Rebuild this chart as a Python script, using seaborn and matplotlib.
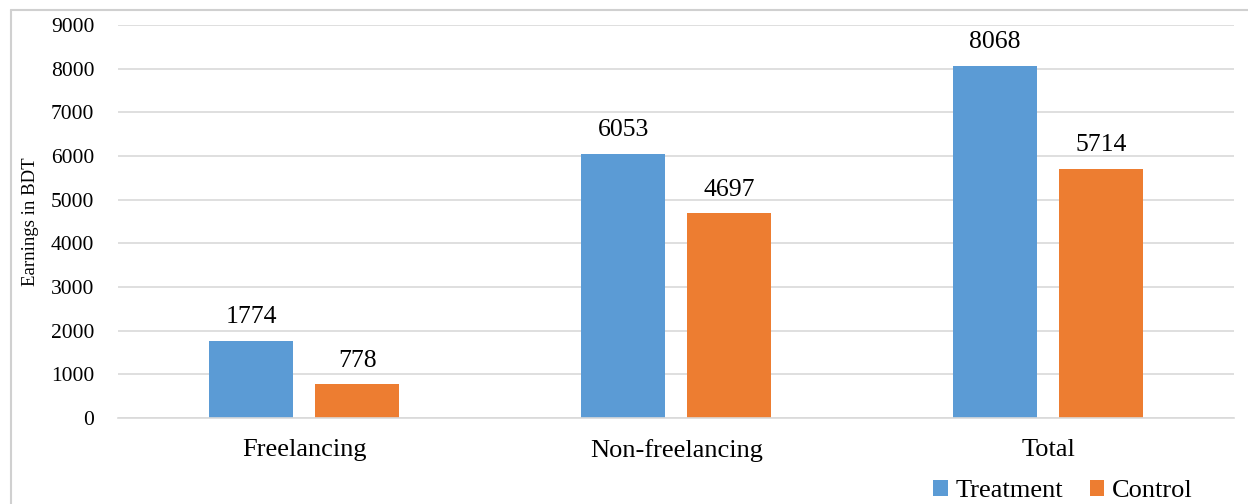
import matplotlib
matplotlib.use("Agg")
import matplotlib.pyplot as plt
from matplotlib.lines import Line2D
import seaborn as sns
import pandas as pd

categories = ["Freelancing", "Non-freelancing", "Total"]
treatment = [1774, 6053, 8068]
control = [778, 4697, 5714]
groups = ["Treatment", "Control"]

df = pd.DataFrame({
    "category": categories * 2,
    "group": ["Treatment"] * 3 + ["Control"] * 3,
    "value": treatment + control,
})

sns.set_style("white")
plt.rcParams["font.family"] = ["Liberation Serif", "DejaVu Serif"]
plt.rcParams["text.color"] = "black"

fig = plt.figure(figsize=(12.48, 5.04), dpi=100)
ax = fig.add_axes([0.0946, 0.1706, 0.8944, 0.7794])

sns.barplot(data=df, x="category", y="value", hue="group", hue_order=groups,
            palette=["#5b9bd5", "#ed7d31"], width=0.57, gap=0.21,
            saturation=1, linewidth=0, ax=ax, legend=True)

for cont in ax.containers:
    ax.bar_label(cont, fmt="%d", padding=9, fontsize=18.5, color="black")

ax.set_ylim(0, 9000)
ax.set_yticks(range(0, 9001, 1000))
ax.set_xlim(-0.5, 2.5)
ax.yaxis.grid(True, color="#d9d9d9", linewidth=1.2)
ax.set_axisbelow(True)
for s in ["left", "right", "top"]:
    ax.spines[s].set_visible(False)
ax.spines["bottom"].set_color("#d9d9d9")
ax.spines["bottom"].set_linewidth(1.2)
ax.tick_params(axis="y", labelsize=15.5, length=0, pad=17, labelcolor="black")
ax.tick_params(axis="x", labelsize=19, length=0, pad=15, labelcolor="black")
ax.set_xlabel("")
ax.set_ylabel("Earnings in BDT", fontsize=13.5, color="black")
ax.yaxis.set_label_coords(-0.071, 0.5)

leg = ax.legend(loc="center", bbox_to_anchor=(0.852, 0.026),
                bbox_transform=fig.transFigure, ncol=2, frameon=False,
                fontsize=19, handlelength=0.55, handleheight=0.55,
                handletextpad=0.3, columnspacing=1.0, borderpad=0.1)

# outer chart frame
fig.add_artist(Line2D([10.5 / 1248, 10.5 / 1248], [0, 1 - 9.5 / 504],
                      transform=fig.transFigure, color="#d0d0d0", linewidth=1.5))
fig.add_artist(Line2D([10.5 / 1248, 1], [1 - 9.5 / 504, 1 - 9.5 / 504],
                      transform=fig.transFigure, color="#d0d0d0", linewidth=1.5))

fig.savefig("out.png", dpi=100)
